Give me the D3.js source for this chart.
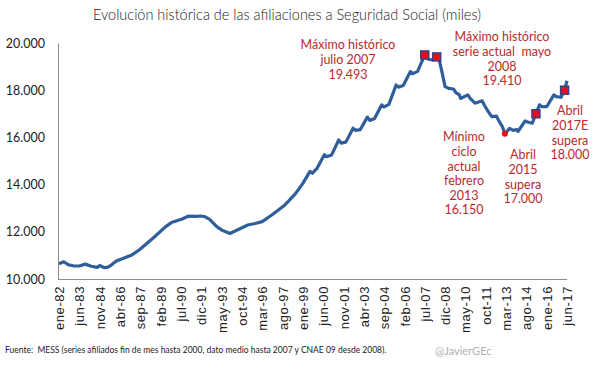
<!DOCTYPE html>
<html>
<head>
<meta charset="utf-8">
<script src="https://cdn.jsdelivr.net/npm/d3@7"></script>
<style>
  body { margin: 0; background: #fff; }
  svg { display: block; font-family: Lato, "Open Sans", sans-serif; }
</style>
</head>
<body>
<div id="chart"></div>
<script>
// afiliados a la Seguridad Social, miles
const meses = [
  "1982-01","1982-05","1982-09","1983-01","1983-06","1983-11","1984-04","1984-09","1984-11","1985-03",
  "1985-06","1985-09","1986-01","1986-07","1987-02","1987-08","1988-01","1988-09","1989-06","1989-11",
  "1990-08","1991-01","1991-08","1991-12","1992-03","1992-07","1993-01","1993-05","1993-12","1994-07",
  "1995-03","1995-09","1996-03","1996-11","1997-04","1997-10","1998-02","1998-07",
  "1999-01","1999-07","1999-09","2000-01","2000-07","2000-09","2001-01","2001-07","2001-09",
  "2002-01","2002-07","2002-09","2003-01","2003-07","2003-09","2004-01","2004-07","2004-09",
  "2005-01","2005-07","2005-09","2006-01","2006-07","2006-09","2007-01","2007-07","2007-09",
  "2008-01","2008-05","2008-07","2008-09","2008-12","2009-03","2009-07","2009-09","2009-12",
  "2010-01","2010-07","2010-09","2011-01","2011-07","2011-09","2011-12","2012-03","2012-07","2012-09",
  "2012-12","2013-02","2013-06","2013-09","2013-12","2014-01","2014-07","2014-09","2015-01","2015-04",
  "2015-07","2015-09","2016-01","2016-07","2016-09","2017-01","2017-04","2017-06"
];
const afiliados = [
  10650,10730,10600,10560,10550,10630,10540,10490,10570,10480,
  10500,10600,10760,10880,11020,11230,11440,11790,12210,12390,
  12540,12660,12650,12670,12640,12530,12220,12080,11930,12100,
  12290,12350,12430,12710,12900,13140,13350,13630,
  14050,14560,14480,14700,15270,15180,15250,15890,15760,
  15800,16390,16300,16330,16860,16720,16800,17380,17290,
  17400,18220,18130,18200,18790,18700,18800,19493,19330,
  19280,19410,19300,18860,18150,18080,18050,17900,17800,
  17650,17800,17650,17450,17550,17350,17100,16880,16900,16700,
  16450,16150,16380,16300,16330,16250,16700,16650,16600,17000,
  17380,17300,17300,17800,17730,17700,18000,18400
];
const etiquetasX = [
  "ene-82","jun-83","nov-84","abr-86","sep-87","feb-89","jul-90","dic-91","may-93",
  "oct-94","mar-96","ago-97","ene-99","jun-00","nov-01","abr-03","sep-04","feb-06",
  "jul-07","dic-08","may-10","oct-11","mar-13","ago-14","ene-16","jun-17"
];
const ticksY = [10000, 12000, 14000, 16000, 18000, 20000];

// hitos marcados
const hitosMes = ["2007-07", "2008-05", "2013-02", "2015-04", "2017-04"];
const hitosValor = [19493, 19410, 16150, 17000, 18000];
const hitosTipo = ["cuadro", "cuadro", "punto", "cuadro", "cuadro"];

const notas = [
  ["Máximo histórico", "julio 2007", "19.493"],
  ["Máximo histórico", "serie actual  mayo", "2008", "19.410"],
  ["Mínimo", "ciclo", "actual", "febrero", "2013", "16.150"],
  ["Abril", "2015", "supera", "17.000"],
  ["Abril", "2017E", "supera", "18.000"]
];

const W = 605, H = 375;
const nombresMes = {ene:0,feb:1,mar:2,abr:3,may:4,jun:5,jul:6,ago:7,sep:8,oct:9,nov:10,dic:11};
const idxMes = s => { const [a, m] = s.split("-").map(Number); return (a - 1982) * 12 + m - 1; };
const idxEtiqueta = s => {
  const [m, yy] = s.split("-");
  const a = +yy >= 50 ? 1900 + +yy : 2000 + +yy;
  return (a - 1982) * 12 + nombresMes[m];
};

const svg = d3.select("#chart").append("svg")
  .attr("width", W)
  .attr("height", H);

const x = d3.scaleLinear().domain([0, idxEtiqueta("jun-17")]).range([59, 567]);
const y = d3.scaleLinear().domain([10000, 20000]).range([279, 43]);
const es = d3.formatLocale({decimal: ",", thousands: ".", grouping: [3], currency: ["", " €"]});
const fmt = es.format(",");

// Title
const titulo = svg.append("text")
  .attr("x", 93)
  .attr("y", 20)
  .style("font-size", "15px")
  .style("font-weight", "300")
  .style("fill", "#222")
  .text("Evolución histórica de las afiliaciones a Seguridad Social (miles)");
if (titulo.node().getComputedTextLength() > 388) {
  titulo.attr("textLength", 388).attr("lengthAdjust", "spacingAndGlyphs");
}

// Axes
const ejeY = svg.append("g")
  .attr("transform", "translate(58,0)")
  .call(d3.axisLeft(y).tickValues(ticksY).tickFormat(fmt).tickSize(0).tickPadding(13));
ejeY.select(".domain").attr("stroke", "#8c8c8c");
ejeY.selectAll("text")
  .style("font-size", "12.5px")
  .style("fill", "#222")
  .style("font-family", "Lato, sans-serif");

const ejeX = svg.append("g")
  .attr("transform", "translate(0,279)")
  .call(d3.axisBottom(x).tickValues(etiquetasX.map(idxEtiqueta)).tickFormat((d, i) => etiquetasX[i]).tickSize(0));
ejeX.select(".domain").attr("stroke", "#8c8c8c").attr("d", "M58,0.5H567");
ejeX.selectAll("text")
  .attr("transform", "rotate(-90)")
  .attr("text-anchor", "end")
  .attr("x", -7)
  .attr("y", 0)
  .attr("dy", "0.35em")
  .style("font-size", "13px")
  .style("letter-spacing", "0.6px")
  .style("fill", "#222");

// Line
const linea = d3.line()
  .x((d, i) => x(idxMes(meses[i])))
  .y(d => y(d));

svg.append("path")
  .datum(afiliados)
  .attr("d", linea)
  .attr("fill", "none")
  .attr("stroke", "#2f5e9a")
  .attr("stroke-width", 3.2)
  .attr("stroke-linejoin", "round");

// Markers
hitosMes.forEach((m, i) => {
  const cx = x(idxMes(m)), cy = y(hitosValor[i]);
  if (hitosTipo[i] === "punto") {
    svg.append("circle")
      .attr("cx", cx).attr("cy", cy).attr("r", 3)
      .attr("fill", "#e3101c");
  } else {
    svg.append("rect")
      .attr("x", cx - 4).attr("y", cy - 4)
      .attr("width", 8).attr("height", 8)
      .attr("fill", "#e3101c")
      .attr("stroke", "#3d3f8c")
      .attr("stroke-width", 1.5);
  }
});

// Annotations
const posNotas = [[348, 45], [502, 37], [464, 137], [523, 155], [570, 111]];
notas.forEach((lineas, i) => {
  const t = svg.append("text")
    .attr("text-anchor", "middle")
    .style("font-size", "12.5px")
    .style("fill", "#b92a2e");
  lineas.forEach((l, j) => {
    t.append("tspan")
      .attr("x", posNotas[i][0])
      .attr("y", posNotas[i][1] + j * 14.6)
      .attr("dy", "0.35em")
      .style("white-space", "pre")
      .text(l);
  });
});

// Footer
svg.append("text")
  .attr("x", 5)
  .attr("y", 353)
  .style("font-size", "8.5px")
  .style("fill", "#222")
  .style("white-space", "pre")
  .text("Fuente:  MESS (series afiliados fin de mes hasta 2000, dato medio hasta 2007 y CNAE 09 desde 2008).");

svg.append("text")
  .attr("x", 435)
  .attr("y", 355)
  .style("font-size", "11px")
  .style("fill", "#b0b0b0")
  .text("@JavierGEc");
</script>
</body>
</html>
